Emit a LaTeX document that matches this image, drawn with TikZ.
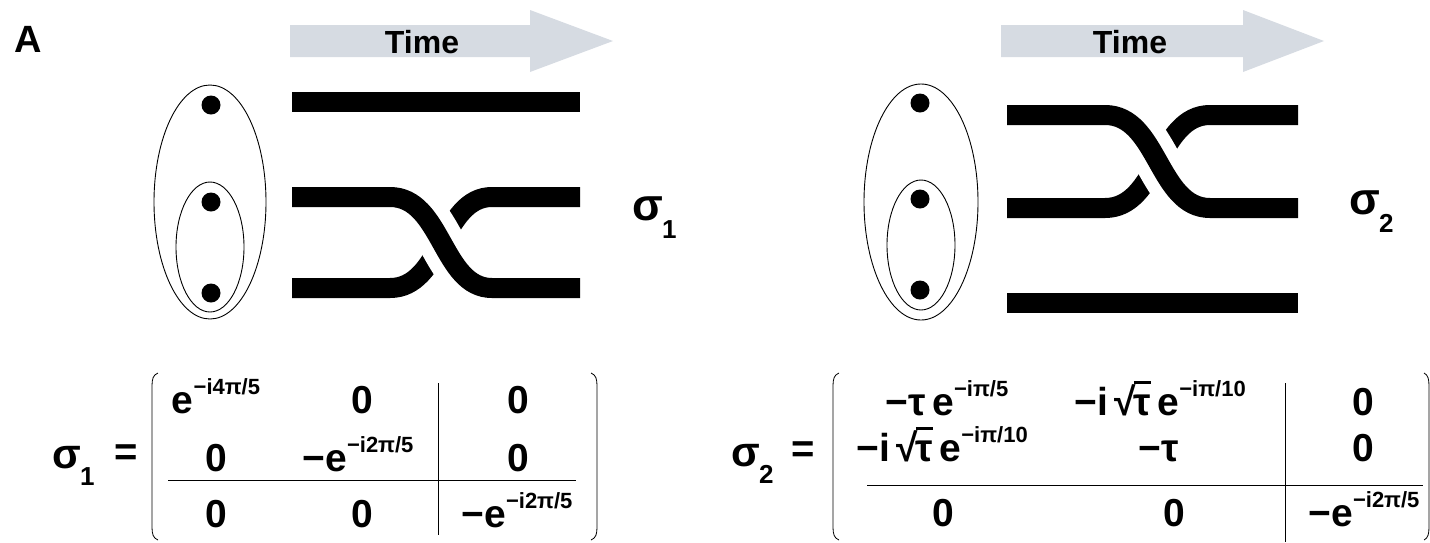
\documentclass[tikz,border=0pt]{standalone}
\usepackage{fontspec}
\setmainfont{Liberation Sans}
\definecolor{arrowgray}{RGB}{214,219,226}
\newsavebox\rtbox
\newcommand\rt[1]{\sbox\rtbox{#1}√\kern-0.05em\rlap{\rule[0.80em]{\wd\rtbox}{0.06em}}\usebox\rtbox}
\newcommand\sps[1]{\raisebox{0.47em}{\fontsize{22}{22}\selectfont #1}}
\newcommand\sbs[1]{\kern-0.02em\raisebox{-0.42em}{\fontsize{26}{26}\selectfont #1}}
\begin{document}
\begin{tikzpicture}[x=1pt,y=-1pt,
  strand/.style={line width=20pt},
  gapline/.style={line width=46pt,white},
  ell/.style={line width=0.9pt},
  dotfill/.style={fill=black},
  timearrow/.style={fill=arrowgray,draw=none},
  timetext/.style={font=\fontsize{32}{32}\selectfont\bfseries,inner sep=0},
  entry/.style={anchor=base,inner sep=0,font=\fontsize{39}{39}\selectfont\bfseries},
  lbl/.style={anchor=base west,inner sep=0,font=\fontsize{45}{45}\selectfont\bfseries},
  mlbl/.style={anchor=base west,inner sep=0,font=\fontsize{42}{42}\selectfont\bfseries},
  eqs/.style={inner sep=0,font=\fontsize{40}{40}\selectfont\bfseries},
  bracket/.style={line width=0.8pt},
  mrule/.style={line width=1pt}]
\useasboundingbox (0,0) rectangle (1430,542);

% panel label
\node[inner sep=0,font=\fontsize{38}{38}\selectfont\bfseries] (A) at (28,39) {A};

% ---------------- left panel ----------------
\fill[timearrow] (290,25) -- (530,25) -- (530,10) -- (613,41) -- (530,72) -- (530,57) -- (290,57) -- cycle;
\node[timetext] (time1) at (422,42) {Time};

\draw[ell] (210,202) ellipse [x radius=56,y radius=117];
\draw[ell] (210,247) ellipse [x radius=34,y radius=65];
\fill[dotfill] (211,105) circle [radius=9.5];
\fill[dotfill] (211,202) circle [radius=9.5];
\fill[dotfill] (211,293) circle [radius=9.5];

\draw[strand] (292,102) -- (580,102);
\draw[strand] (292,288) -- (390,288) .. controls (442,288) and (442,197) .. (492,197) -- (580,197);
\draw[gapline] (390,197) .. controls (442,197) and (442,288) .. (492,288);
\draw[strand] (292,197) -- (390,197) .. controls (442,197) and (442,288) .. (492,288) -- (580,288);

\node[lbl] (s1) at (632,220) {σ\sbs{1}};

% ---------------- right panel ----------------
\fill[timearrow] (1001,25) -- (1243,25) -- (1243,10) -- (1324,41) -- (1243,72) -- (1243,57) -- (1001,57) -- cycle;
\node[timetext] (time2) at (1130,42) {Time};

\draw[ell] (921,202) ellipse [x radius=57,y radius=118];
\draw[ell] (921,245) ellipse [x radius=34,y radius=65];
\fill[dotfill] (920,103) circle [radius=9.5];
\fill[dotfill] (920,199) circle [radius=9.5];
\fill[dotfill] (920,290) circle [radius=9.5];

\draw[strand] (1007,208) -- (1105,208) .. controls (1158,208) and (1158,115) .. (1210,115) -- (1298,115);
\draw[gapline] (1105,115) .. controls (1158,115) and (1158,208) .. (1210,208);
\draw[strand] (1007,115) -- (1105,115) .. controls (1158,115) and (1158,208) .. (1210,208) -- (1298,208);
\draw[strand] (1007,303) -- (1298,303);

\node[lbl] (s2) at (1349,214) {σ\sbs{2}};

% ---------------- matrix sigma1 ----------------
\node[mlbl] (m1lbl) at (52,468) {σ\sbs{1}};
\node[eqs] (m1eq) at (126,455) {=};
\draw[bracket] (158,373) .. controls (153,375) and (152,379) .. (152,386) -- (152,527) .. controls (152,534) and (153,538) .. (158,540);
\draw[bracket] (591,373) .. controls (596,375) and (597,379) .. (597,386) -- (597,527) .. controls (597,534) and (596,538) .. (591,540);
\draw[mrule] (168,480) -- (576,480);
\draw[mrule] (438,383) -- (438,535);
\node[entry] (a11) at (216,413) {e\sps{−i4π/5}};
\node[entry] (a12) at (362,413) {0};
\node[entry] (a13) at (518,413) {0};
\node[entry] (a21) at (216,471) {0};
\node[entry] (a22) at (358,471) {−e\sps{−i2π/5}};
\node[entry] (a23) at (518,471) {0};
\node[entry] (a31) at (216,527) {0};
\node[entry] (a32) at (362,527) {0};
\node[entry] (a33) at (517,527) {−e\sps{−i2π/5}};

% ---------------- matrix sigma2 ----------------
\node[mlbl] (m2lbl) at (731,466) {σ\sbs{2}};
\node[eqs] (m2eq) at (803,452) {=};
\draw[bracket] (839,373) .. controls (834,375) and (833,379) .. (833,386) -- (833,527) .. controls (833,534) and (834,538) .. (839,540);
\draw[bracket] (1424,373) .. controls (1428,375) and (1429,379) .. (1429,386) -- (1429,527) .. controls (1429,534) and (1428,538) .. (1424,540);
\draw[mrule] (867,485) -- (1423,485);
\draw[mrule] (1285,383) -- (1285,542);
\node[entry] (b11) at (947,415) {−τ\,e\sps{−iπ/5}};
\node[entry] (b12) at (1160,415) {−i\,\rt{τ}\,e\sps{−iπ/10}};
\node[entry] (b13) at (1363,415) {0};
\node[entry] (b21) at (942,461) {−i\,\rt{τ}\,e\sps{−iπ/10}};
\node[entry] (b22) at (1159,461) {−τ};
\node[entry] (b23) at (1363,461) {0};
\node[entry] (b31) at (943,526) {0};
\node[entry] (b32) at (1174,526) {0};
\node[entry] (b33) at (1364,526) {−e\sps{−i2π/5}};
\end{tikzpicture}
\end{document}
